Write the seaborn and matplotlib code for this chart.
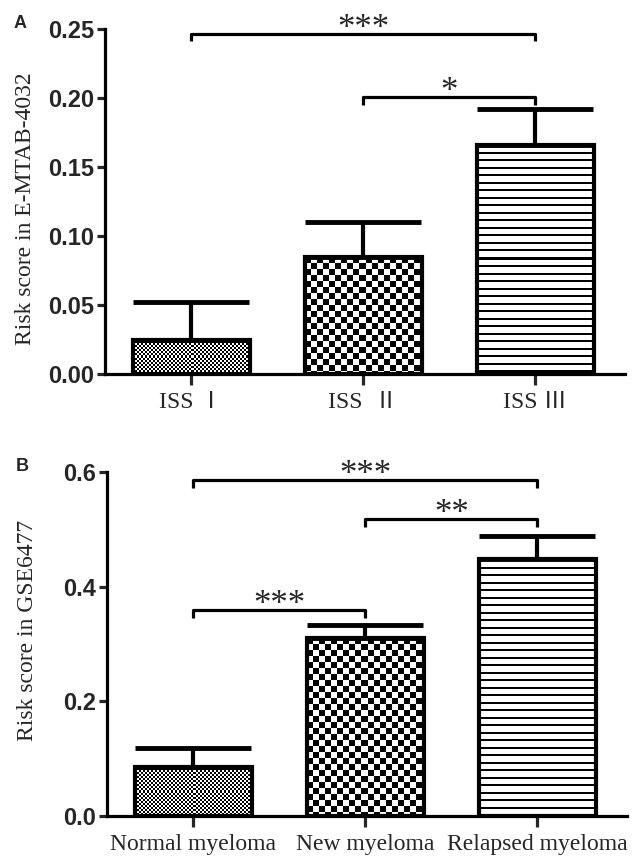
import matplotlib
matplotlib.use("Agg")
import matplotlib.pyplot as plt
import matplotlib.ticker as mticker
import seaborn as sns
import numpy as np
import pandas as pd

# Panel A data (E-MTAB-4032)
a_groups = ["ISS Ⅰ", "ISS  Ⅱ", "ISS Ⅲ"]
a_means = [0.0248, 0.0845, 0.166]
a_err = [0.0272, 0.0255, 0.026]
a_sig = [(0, 2, 0.2465, "***"), (1, 2, 0.2007, "*")]

# Panel B data (GSE6477)
b_groups = ["Normal myeloma", "New myeloma", "Relapsed myeloma"]
b_means = [0.086, 0.310, 0.448]
b_err = [0.033, 0.023, 0.041]
b_sig = [(0, 2, 0.586, "***"), (1, 2, 0.518, "**"), (0, 1, 0.359, "***")]

patterns = ["fine", "checker", "hlines"]

sns.set_style("white")
serif = ["Liberation Serif", "Noto Sans CJK SC", "DejaVu Serif"]
sans_bold = {"family": "Liberation Sans", "weight": "bold"}


def make_texture(kind, h, w):
    yy, xx = np.mgrid[0:h, 0:w]
    if kind == "fine":
        img = ((xx // 2 + yy // 2) % 2).astype(float)
    elif kind == "checker":
        img = ((xx // 6 + yy // 6) % 2).astype(float)
    else:
        img = ((yy % 7.5) >= 1.6).astype(float)
    return img


def draw_panel(fig, ax, groups, means, errs, sigs, ylim, ticks, fmt, ylabel, label_y, letter):
    df = pd.DataFrame({"group": groups, "score": means})
    sns.barplot(data=df, x="group", y="score", color="white", edgecolor="black",
                linewidth=3.0, width=0.68, errorbar=None, ax=ax, zorder=3)
    ax.set_ylim(*ylim)
    ax.set_xlim(-0.5, 2.52)
    ax.set_yticks(ticks)
    ax.yaxis.set_major_formatter(mticker.FormatStrFormatter(fmt))

    ax.errorbar(range(len(means)), means, yerr=[np.zeros(len(means)), errs],
                fmt="none", ecolor="black", elinewidth=3.0, capsize=42, capthick=3.5,
                zorder=4)

    # fill each bar with its texture, clipped to the bar outline
    fig.canvas.draw()
    for patch, kind in zip(ax.patches, patterns):
        patch.set_facecolor("none")
        x0, y0 = patch.get_x(), patch.get_y()
        x1, y1 = x0 + patch.get_width(), y0 + patch.get_height()
        p0 = ax.transData.transform((x0, y0))
        p1 = ax.transData.transform((x1, y1))
        w = max(int(round(abs(p1[0] - p0[0]))), 1)
        h = max(int(round(abs(p1[1] - p0[1]))), 1)
        tex = make_texture(kind, h, w)
        im = ax.imshow(tex, extent=(x0, x1, y0, y1), aspect="auto", cmap="gray",
                       vmin=0, vmax=1, interpolation="nearest", origin="upper", zorder=2)
        im.set_clip_path(patch)

    # significance brackets
    drop = 0.022 * (ylim[1] - ylim[0])
    for i, j, y, label in sigs:
        ax.plot([i, i, j, j], [y - drop, y, y, y - drop], color="black", lw=2.3,
                clip_on=False, zorder=5, solid_capstyle="butt")
        ax.text((i + j) / 2, y - 0.012 * (ylim[1] - ylim[0]), label, ha="center",
                va="baseline", fontsize=25, family=serif)

    sns.despine(ax=ax)
    for side in ["left", "bottom"]:
        ax.spines[side].set_linewidth(2.3)
        ax.spines[side].set_color("black")
    ax.tick_params(axis="y", direction="out", length=6, width=2.3, pad=2, left=True)
    ax.tick_params(axis="x", direction="out", length=8, width=2.3, pad=5, bottom=True)
    for t in ax.get_yticklabels():
        t.set_fontproperties(sans_bold)
        t.set_fontsize(17)
    for t in ax.get_xticklabels():
        t.set_family(serif)
        t.set_fontsize(17)
    ax.set_xlabel("")
    ax.set_ylabel(ylabel, fontsize=17, family=serif, labelpad=8)
    ax.yaxis.set_label_coords(-0.133, label_y)
    ax.text(-0.175, 1.015, letter, transform=ax.transAxes, fontsize=13,
            fontweight="bold", family="Liberation Sans", ha="left", va="center")


fig = plt.figure(figsize=(6.38, 8.61), dpi=100)
ax_a = fig.add_axes([0.1646, 0.5656, 0.815, 0.4007])
ax_b = fig.add_axes([0.1677, 0.0523, 0.8150, 0.3995])

draw_panel(fig, ax_a, a_groups, a_means, a_err, a_sig, (0, 0.25),
           [0, 0.05, 0.10, 0.15, 0.20, 0.25], "%.2f", "Risk score in E-MTAB-4032", 0.48, "A")
draw_panel(fig, ax_b, b_groups, b_means, b_err, b_sig, (0, 0.6),
           [0, 0.2, 0.4, 0.6], "%.1f", "Risk score in GSE6477", 0.54, "B")

plt.savefig("out.png", dpi=100)
